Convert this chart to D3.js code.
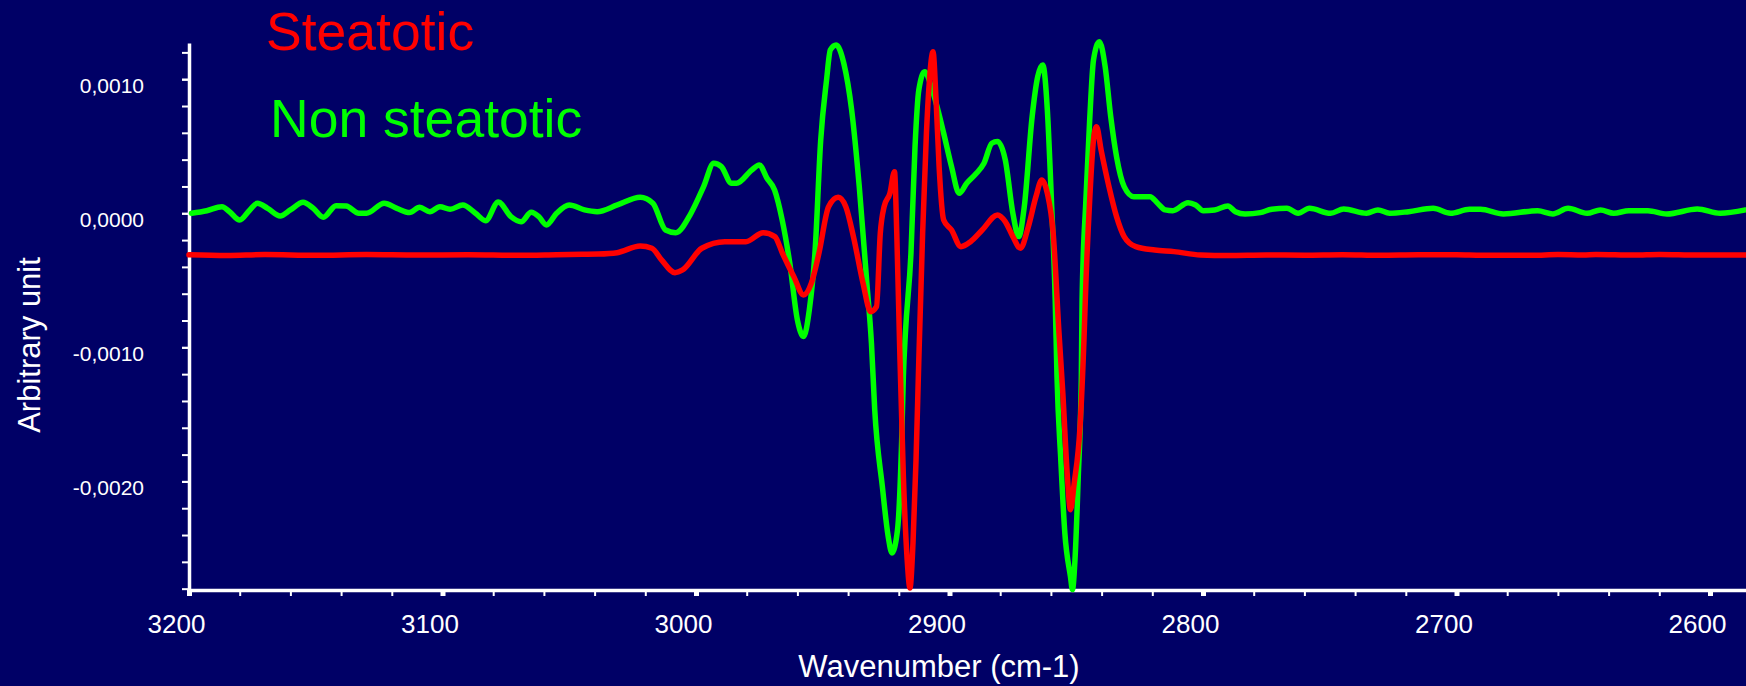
<!DOCTYPE html>
<html>
<head>
<meta charset="utf-8">
<script src="https://cdn.jsdelivr.net/npm/d3@7"></script>
<style>
html,body{margin:0;padding:0;background:#000066;overflow:hidden;}
svg{display:block;}
text{font-family:"Liberation Sans",Arial,Helvetica,sans-serif;}
</style>
</head>
<body>
<svg id="chart" width="1746" height="686"></svg>
<script>
// ---------- data (values in units of 0.001 arbitrary unit) ----------
const seriesNames = ["Steatotic", "Non steatotic"];
const seriesColors = ["#ff0000", "#00ff00"];

const nonSteatoticWn = [3199,3193,3187,3184,3180,3176,3173,3169,3164,3160,3155,3151,3147,3142,3138,3133,3130,3123,3118,3113,3109,3105,3101,3097,3092,3087,3083,3078,3073,3069,3065,3062,3059,3055,3050,3044,3039,3031,3022,3017,3012,3008,3002,2997,2993,2990,2986,2984,2978,2975,2972,2969,2966,2963,2960,2957.6,2955.3,2953,2950.8,2948.5,2947,2944.7,2941.7,2938.6,2935.6,2932.6,2930.8,2929.5,2926.5,2924.2,2922.7,2920.5,2918.9,2918.2,2917.4,2915.2,2913.6,2912.1,2909.8,2906.8,2902.3,2899.2,2896.2,2893.2,2889.4,2886.4,2883.3,2881.1,2878,2875,2872.7,2870.5,2867.4,2865.2,2863.2,2861.4,2859.8,2858.3,2857.6,2856.1,2854.5,2852.3,2851.5,2850.5,2849.2,2848,2847.7,2846.2,2844.7,2843.2,2840.9,2838.6,2836.4,2834.1,2831.1,2827.3,2820.9,2817.9,2814.9,2811.9,2805.9,2802.9,2799.9,2795.4,2790.2,2787.2,2783.4,2777.4,2772.9,2766.9,2762.5,2758,2749.7,2744.5,2735.5,2731,2726.4,2718.9,2709.2,2702.4,2694.9,2690.5,2681.5,2668,2662,2656,2648.5,2643.2,2638,2632,2624.5,2617,2605,2596,2586];
const nonSteatoticVal = [0,0.019,0.049,0.012,-0.05,0.025,0.075,0.037,-0.02,0.025,0.082,0.037,-0.03,0.057,0.054,0,0,0.075,0.037,0.005,0.045,0.012,0.049,0.03,0.062,0,-0.055,0.084,-0.025,-0.063,0.007,-0.025,-0.087,0,0.062,0.025,0.012,0.062,0.119,0.075,-0.125,-0.145,0,0.199,0.373,0.348,0.224,0.224,0.323,0.36,0.261,0.174,-0.05,-0.373,-0.796,-0.92,-0.721,-0.274,0.547,0.994,1.218,1.255,1.119,0.77,0.199,-0.522,-0.967,-1.465,-2.036,-2.409,-2.534,-2.36,-1.713,-1.216,-0.895,-0.298,0.497,0.92,1.056,0.92,0.597,0.348,0.149,0.224,0.298,0.373,0.522,0.535,0.398,0,-0.174,0.049,0.721,1.019,1.106,0.77,0.099,-0.646,-1.216,-1.838,-2.385,-2.708,-2.807,-2.584,-1.962,-1.216,-0.646,0.099,0.696,1.143,1.28,1.094,0.721,0.422,0.199,0.124,0.124,0.075,0.025,0.019,0.079,0.062,0.019,0.025,0.054,0.012,-0.005,0.005,0.03,0.037,0,0.037,0,0.032,0,0.025,0,0.012,0.037,0,0.03,0.03,-0.005,0.019,-0.005,0.037,0,0.025,0,0.019,0.019,-0.005,0.032,0,0.025];

const steatoticWn = [3200,3185,3170,3150,3130,3110,3090,3070,3055,3045,3038.6,3031.1,3022,3017.4,3013.6,3008.3,3005.3,2997.7,2988.6,2980.3,2973.5,2968.9,2965.9,2961.4,2957.6,2954.5,2951.5,2947.7,2943.9,2940.9,2937.9,2934.1,2931.1,2928.8,2927.3,2925.8,2923.5,2921.7,2920.8,2919.7,2918.2,2916.7,2915.6,2914.4,2913.2,2912.1,2910.6,2909.1,2908,2906.5,2905.3,2904.1,2902.3,2899.2,2895.5,2891.7,2887.1,2881.1,2878,2875,2872,2868.9,2865.9,2863.6,2861.4,2859.1,2856.8,2855.3,2853.5,2852.3,2850.8,2848.5,2847,2846.2,2844.7,2843.2,2842,2840.2,2837.1,2834.1,2831.1,2826.5,2819,2811.4,2801,2790,2775,2760,2745,2730,2715,2700,2690,2670,2660,2650,2645,2630,2620,2605,2586];
const steatoticVal = [-0.31,-0.315,-0.308,-0.313,-0.308,-0.312,-0.309,-0.313,-0.309,-0.306,-0.304,-0.294,-0.244,-0.261,-0.348,-0.443,-0.423,-0.261,-0.212,-0.212,-0.145,-0.174,-0.298,-0.473,-0.609,-0.522,-0.298,0.049,0.119,0.049,-0.174,-0.522,-0.734,-0.697,-0.149,0.049,0.149,0.31,-0.149,-0.967,-1.962,-2.584,-2.795,-2.459,-1.838,-1.092,-0.149,0.597,0.97,1.205,0.845,0.348,-0.05,-0.125,-0.249,-0.212,-0.125,-0.012,-0.062,-0.174,-0.261,-0.1,0.124,0.248,0.149,-0.149,-0.895,-1.34,-1.962,-2.211,-2.012,-1.589,-0.967,-0.522,0.099,0.547,0.646,0.472,0.199,-0.025,-0.174,-0.249,-0.274,-0.286,-0.311,-0.315,-0.311,-0.313,-0.309,-0.314,-0.31,-0.31,-0.314,-0.314,-0.308,-0.311,-0.307,-0.312,-0.307,-0.312,-0.312];

const xMajorTicks = [3200, 3100, 3000, 2900, 2800, 2700, 2600];
const xMinorStep = 20;
const yMajorTicks = [-2, -1, 0, 1];   // x 0.001
const yMinorStep = 0.2;
const xTitle = "Wavenumber (cm-1)";
const yTitle = "Arbitrary unit";

// ---------- layout ----------
const W = 1746, H = 686;
const svg = d3.select("#chart");
svg.append("rect").attr("width", W).attr("height", H).attr("fill", "#000066");

const x = d3.scaleLinear().domain([3200, 2585.8]).range([189, 1746]);
const y = d3.scaleLinear().domain([-2.81, 1.27]).range([590, 43]);

const loc = d3.formatLocale({decimal: ",", thousands: ".", grouping: [3], currency: ["", ""], minus: "-"});
const f4 = loc.format(".4f");

// x axis minor
const xMinor = d3.range(3200, 2585, -xMinorStep);
const gxMinor = svg.append("g").attr("transform", "translate(0,590)")
  .call(d3.axisBottom(x).tickValues(xMinor).tickSize(6).tickSizeOuter(0).tickFormat(""));
gxMinor.select(".domain").attr("stroke", "#fff").attr("stroke-width", 3.5);
gxMinor.selectAll(".tick line").attr("stroke", "#fff").attr("stroke-width", 2);

const gxMajor = svg.append("g").attr("transform", "translate(0,590)")
  .call(d3.axisBottom(x).tickValues(xMajorTicks).tickSize(6).tickSizeOuter(0).tickFormat(d3.format("d")));
gxMajor.select(".domain").remove();
gxMajor.selectAll(".tick line").attr("stroke", "#fff").attr("stroke-width", 5);
gxMajor.selectAll(".tick text").attr("fill", "#fff").attr("font-size", 26)
  .attr("y", 43).attr("dy", 0).attr("dx", -13)
  .style("font-family", "'Liberation Sans', Arial, sans-serif");

// y axis
const yMinor = d3.range(-2.8, 1.21, yMinorStep).map(v => Math.round(v * 10) / 10);
const gy = svg.append("g").attr("transform", "translate(189,0)")
  .call(d3.axisLeft(y).tickValues(yMinor).tickSize(7).tickSizeOuter(0).tickFormat(""));
gy.select(".domain").attr("stroke", "#fff").attr("stroke-width", 3.5);
gy.selectAll(".tick line").attr("stroke", "#fff").attr("stroke-width", 2);

const gyMajor = svg.append("g").attr("transform", "translate(189,0)")
  .call(d3.axisLeft(y).tickValues(yMajorTicks).tickSize(7).tickSizeOuter(0).tickFormat(d => f4(d / 1000)));
gyMajor.select(".domain").remove();
gyMajor.selectAll(".tick line").attr("stroke", "#fff").attr("stroke-width", 2);
gyMajor.selectAll(".tick text").attr("fill", "#fff").attr("font-size", 21)
  .attr("x", -45).attr("y", 13).attr("dy", 0)
  .style("font-family", "'Liberation Sans', Arial, sans-serif");

// axis titles
svg.append("text").attr("x", 939).attr("y", 677).attr("text-anchor", "middle")
  .attr("fill", "#fff").attr("font-size", 31).text(xTitle);
svg.append("text").attr("transform", "translate(40,345) rotate(-90)").attr("text-anchor", "middle")
  .attr("fill", "#fff").attr("font-size", 31).text(yTitle);

// lines
const line = d3.line().x(d => x(d[0])).y(d => y(d[1])).curve(d3.curveMonotoneX);
const greenData = nonSteatoticWn.map((w, i) => [w, nonSteatoticVal[i]]);
const redData = steatoticWn.map((w, i) => [w, steatoticVal[i]]);

svg.append("path").datum(greenData).attr("d", line)
  .attr("fill", "none").attr("stroke", seriesColors[1]).attr("stroke-width", 5.5)
  .attr("stroke-linejoin", "round").attr("stroke-linecap", "round");
svg.append("path").datum(redData).attr("d", line)
  .attr("fill", "none").attr("stroke", seriesColors[0]).attr("stroke-width", 5.5)
  .attr("stroke-linejoin", "round").attr("stroke-linecap", "round");

// legend labels
svg.append("text").attr("x", 266).attr("y", 50).attr("fill", seriesColors[0])
  .attr("font-size", 53.5).text(seriesNames[0]);
svg.append("text").attr("x", 270).attr("y", 137).attr("fill", seriesColors[1])
  .attr("font-size", 53.5).text(seriesNames[1]);
</script>
</body>
</html>
